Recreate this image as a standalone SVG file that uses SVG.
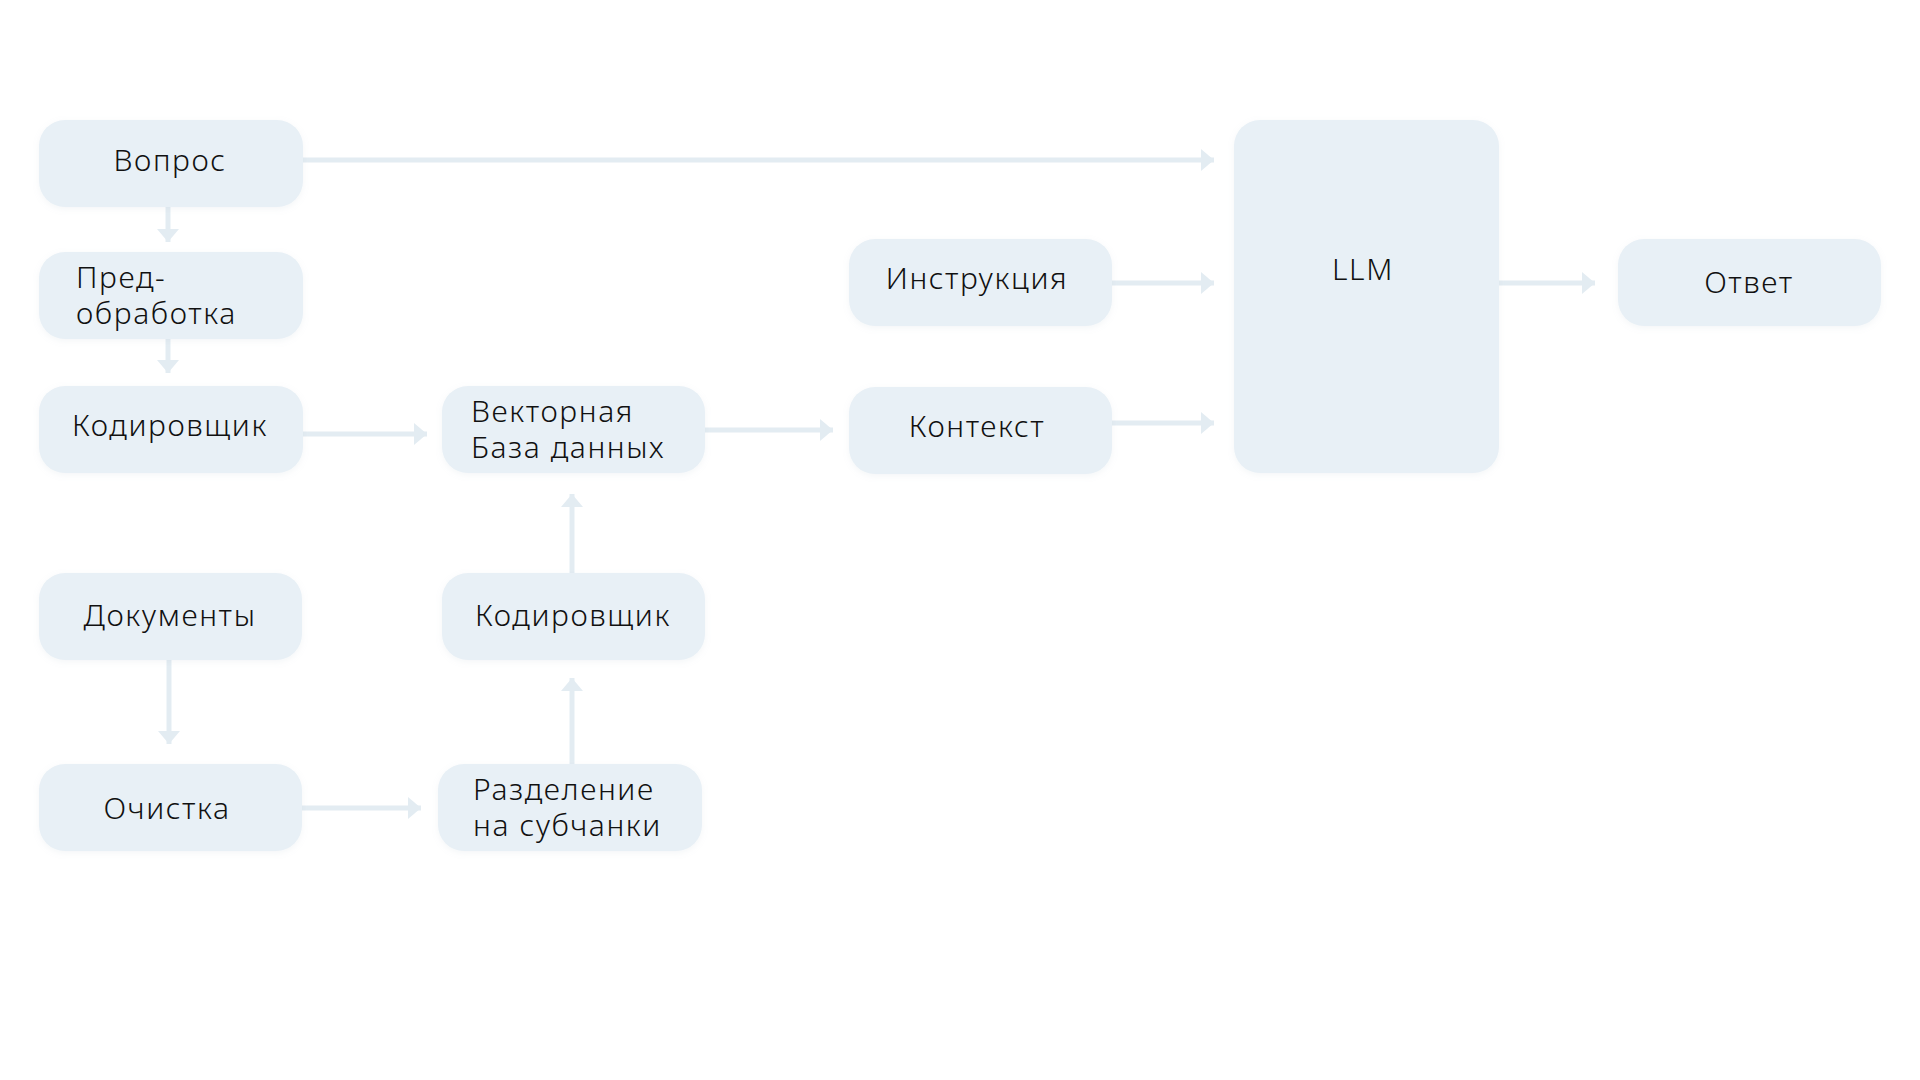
<svg xmlns="http://www.w3.org/2000/svg" width="1920" height="1080" viewBox="0 0 1920 1080">
<defs>
<filter id="sh" x="-10%" y="-20%" width="120%" height="140%">
<feDropShadow dx="0" dy="2" stdDeviation="3" flood-color="#9fb4c4" flood-opacity="0.12"/>
</filter>
<marker id="ah" markerUnits="userSpaceOnUse" markerWidth="14" markerHeight="22" refX="13" refY="11" orient="auto">
<path d="M0,0 L13,11 L0,22 Z" fill="#e3ecf2"/>
</marker>
</defs>
<style>
.n{fill:#e8f0f6;filter:url(#sh)}
.t{font-family:"Noto Sans","DejaVu Sans",sans-serif;font-size:30px;fill:#111;font-weight:300;letter-spacing:1.6px}
.c{text-anchor:middle}
.e{stroke:#e3ecf2;stroke-width:5;fill:none;marker-end:url(#ah)}
</style>
<rect width="1920" height="1080" fill="#ffffff"/>
<g id="connectors">
<line class="e" x1="302" y1="160" x2="1214" y2="160"/>
<line class="e" x1="168" y1="207" x2="168" y2="242"/>
<line class="e" x1="168" y1="339" x2="168" y2="373"/>
<line class="e" x1="302" y1="434" x2="427" y2="434"/>
<line class="e" x1="705" y1="430" x2="833" y2="430"/>
<line class="e" x1="1112" y1="283" x2="1214" y2="283"/>
<line class="e" x1="1112" y1="423" x2="1214" y2="423"/>
<line class="e" x1="1499" y1="283" x2="1595" y2="283"/>
<line class="e" x1="572" y1="573" x2="572" y2="494"/>
<line class="e" x1="572" y1="764" x2="572" y2="678"/>
<line class="e" x1="169" y1="660" x2="169" y2="744"/>
<line class="e" x1="302" y1="808" x2="421" y2="808"/>
</g>
<g id="vopros"><rect class="n" x="39" y="120" width="264" height="87" rx="26"/><text class="t c" x="170" y="171">Вопрос</text></g>
<g id="predobrabotka"><rect class="n" x="39" y="252" width="264" height="87" rx="26"/><text class="t" x="76" y="288">Пред-</text><text class="t" x="76" y="324">обработка</text></g>
<g id="kodirovshchik1"><rect class="n" x="39" y="386" width="264" height="87" rx="26"/><text class="t c" x="170" y="436">Кодировщик</text></g>
<g id="vektornaya"><rect class="n" x="442" y="386" width="263" height="87" rx="26"/><text class="t" x="471" y="422">Векторная</text><text class="t" x="471" y="458">База данных</text></g>
<g id="instrukciya"><rect class="n" x="849" y="239" width="263" height="87" rx="26"/><text class="t c" x="977" y="289">Инструкция</text></g>
<g id="kontekst"><rect class="n" x="849" y="387" width="263" height="87" rx="26"/><text class="t c" x="977" y="437">Контекст</text></g>
<g id="llm"><rect class="n" x="1234" y="120" width="265" height="353" rx="26"/><text class="t c" x="1363" y="280">LLM</text></g>
<g id="otvet"><rect class="n" x="1618" y="239" width="263" height="87" rx="26"/><text class="t c" x="1749" y="293">Ответ</text></g>
<g id="dokumenty"><rect class="n" x="39" y="573" width="263" height="87" rx="26"/><text class="t c" x="170" y="626">Документы</text></g>
<g id="kodirovshchik2"><rect class="n" x="442" y="573" width="263" height="87" rx="26"/><text class="t c" x="573" y="626">Кодировщик</text></g>
<g id="ochistka"><rect class="n" x="39" y="764" width="263" height="87" rx="26"/><text class="t c" x="167" y="819">Очистка</text></g>
<g id="razdelenie"><rect class="n" x="438" y="764" width="264" height="87" rx="26"/><text class="t" x="473" y="800">Разделение</text><text class="t" x="473" y="836">на субчанки</text></g>
</svg>
